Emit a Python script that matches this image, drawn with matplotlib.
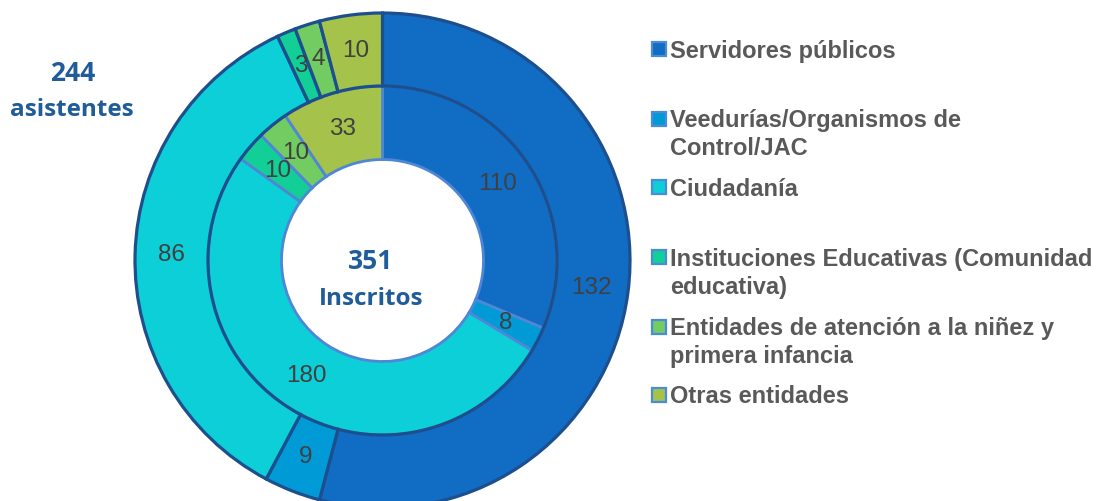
import matplotlib
matplotlib.use("Agg")
import matplotlib.pyplot as plt
from matplotlib.patches import Rectangle

# ---- data ----
categories = [
    "Servidores públicos",
    "Veedurías/Organismos de\nControl/JAC",
    "Ciudadanía",
    "Instituciones Educativas (Comunidad\neducativa)",
    "Entidades de atención a la niñez y\nprimera infancia",
    "Otras entidades",
]
asistentes = [132, 9, 86, 3, 4, 10]     # outer ring
inscritos = [110, 8, 180, 10, 10, 33]   # inner ring
colors = ["#116CC4", "#009BD6", "#0CCFD8", "#12CF98", "#72CC62", "#A5C24A"]

W, H = 1104, 501
fig = plt.figure(figsize=(W / 100, H / 100), dpi=100)
ax = fig.add_axes([0, 0, 1, 1])

cx, cy = 382.5, H - 260.5
R_out, R_mid, R_in = 247.5, 174.5, 101.0

num_style = dict(color="#404040", fontsize=17.5, family="Liberation Sans")

def make_fmt(vals):
    tot = sum(vals)
    return lambda p: f"{round(p * tot / 100)}"

# inner ring (inscritos)
ax.pie(inscritos, colors=colors, startangle=90, counterclock=False,
       radius=R_mid, center=(cx, cy),
       wedgeprops=dict(width=R_mid - R_in, edgecolor="#4F86D6", linewidth=2.0),
       autopct=make_fmt(inscritos), pctdistance=((R_mid + R_in) / 2) / R_mid,
       textprops=num_style)

# outer ring (asistentes)
ax.pie(asistentes, colors=colors, startangle=90, counterclock=False,
       radius=R_out, center=(cx, cy),
       wedgeprops=dict(width=R_out - R_mid, edgecolor="#1D4F8E", linewidth=2.3),
       autopct=make_fmt(asistentes), pctdistance=((R_out + R_mid) / 2) / R_out,
       textprops=num_style)

ax.set_xlim(0, W)
ax.set_ylim(0, H)
ax.set_aspect("equal")
ax.axis("off")

title_color = "#1F5C99"
tfont = dict(family="Open Sans", weight="bold", style="normal",
             color=title_color, ha="center", va="baseline")
ax.text(72.5, H - 80.7, f"{sum(asistentes)}", fontsize=19, **tfont)
ax.text(72, H - 116, "asistentes", fontsize=17.5, **tfont)
ax.text(371, H - 269.3, f"{sum(inscritos)}", fontsize=19, **tfont)
ax.text(371.5, H - 305, "Inscritos", fontsize=17.5, **tfont)

# legend (manual)
baselines = [57.7, 127.3, 195.7, 265.7, 335.0, 403.3]
line_gap = 28
for cat, col, b in zip(categories, colors, baselines):
    ax.add_patch(Rectangle((652, H - b + 1.5), 14, 14, facecolor=col,
                           edgecolor="#4A8BDA", linewidth=1.6))
    for i, line in enumerate(cat.split("\n")):
        ax.text(670, H - (b + i * line_gap), line, fontsize=17,
                family="Liberation Sans", weight="bold", color="#595959",
                ha="left", va="baseline")

fig.savefig("out.png", dpi=100)
